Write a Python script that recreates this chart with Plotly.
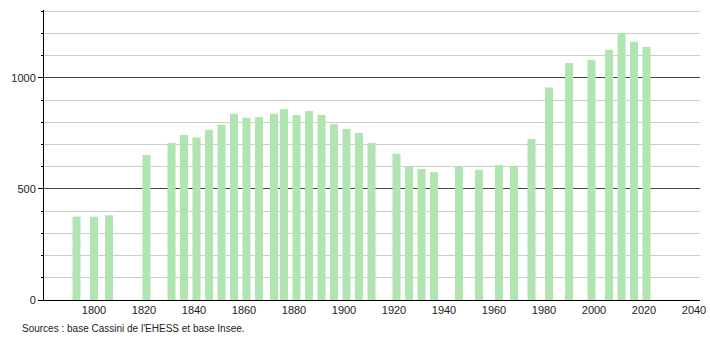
import plotly.graph_objects as go

years = [1793, 1800, 1806, 1821, 1831, 1836, 1841, 1846, 1851, 1856, 1861, 1866,
         1872, 1876, 1881, 1886, 1891, 1896, 1901, 1906, 1911, 1921, 1926, 1931,
         1936, 1946, 1954, 1962, 1968, 1975, 1982, 1990, 1999, 2006, 2011, 2016, 2021]
population = [375, 375, 381, 653, 706, 743, 731, 766, 788, 838, 820, 824,
              838, 860, 832, 851, 832, 791, 770, 752, 706, 658, 600, 590,
              575, 598, 586, 608, 604, 725, 956, 1066, 1081, 1126, 1201, 1162, 1138]
x_ticks = [1800, 1820, 1840, 1860, 1880, 1900, 1920, 1940, 1960, 1980, 2000, 2020, 2040]
y_ticks = [0, 500, 1000]
source_text = "Sources : base Cassini de l'EHESS et base Insee."

fig = go.Figure()
fig.add_trace(go.Bar(
    x=years, y=population, width=3.2,
    marker=dict(color="rgb(176,228,176)", line=dict(width=0)),
    hoverinfo="x+y",
))

fig.update_layout(
    width=710, height=340,
    margin=dict(l=44, r=10, t=10, b=40, autoexpand=False),
    paper_bgcolor="white", plot_bgcolor="white",
    showlegend=False,
    font=dict(family="Liberation Sans, Arial, sans-serif", size=11, color="#222"),
    xaxis=dict(
        range=[1780, 2042.4],
        tickvals=x_ticks,
        ticks="", showgrid=False, zeroline=False,
        showline=True, linecolor="black", linewidth=1,
        tickfont=dict(size=11), automargin=False,
    ),
    yaxis=dict(
        range=[0, 1305],
        tickvals=y_ticks,
        ticks="outside", ticklen=5, tickcolor="black",
        showgrid=True, gridcolor="#444", gridwidth=1,
        zeroline=False,
        showline=True, linecolor="black", linewidth=1,
        tickfont=dict(size=11), automargin=False,
        minor=dict(dtick=100, tick0=0, showgrid=True, gridcolor="#cccccc",
                   ticks="outside", ticklen=2, tickcolor="black"),
    ),
    annotations=[dict(
        text=source_text, xref="paper", yref="paper",
        x=-0.037, y=-0.097, xanchor="left", yanchor="middle",
        showarrow=False, font=dict(size=10, color="#222"),
    )],
)

fig.write_html("out.html")
